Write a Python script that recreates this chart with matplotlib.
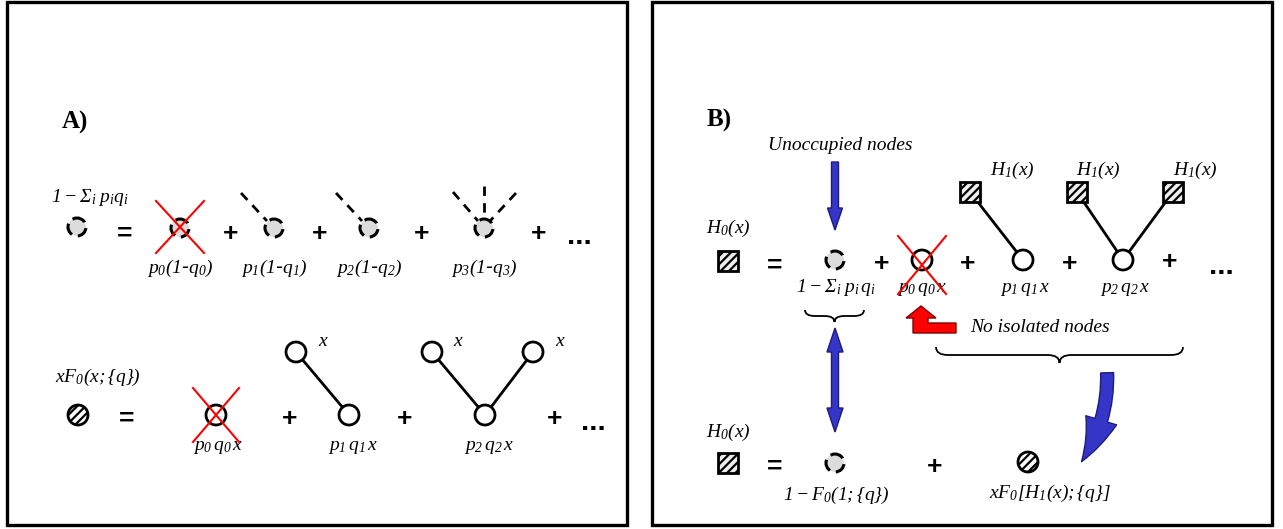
import matplotlib
matplotlib.use("Agg")
import matplotlib.pyplot as plt
import matplotlib.patches as mpatches
from matplotlib.path import Path

# every label in the figure is italic Times-like, digits included
plt.rcParams['mathtext.fontset'] = 'custom'
plt.rcParams['mathtext.rm'] = 'Liberation Serif:italic'
plt.rcParams['mathtext.it'] = 'Liberation Serif:italic'
plt.rcParams['mathtext.bf'] = 'Liberation Serif:bold'
plt.rcParams['hatch.linewidth'] = 1.6

# ---- text content ----
panel_tags = ['A)', 'B)']
a_top_head = r'$1-\Sigma_i\; p_i q_i$'
a_top_terms = [r'$p_0(1$‐$q_0)$', r'$p_1(1$‐$q_1)$',
               r'$p_2(1$‐$q_2)$', r'$p_3(1$‐$q_3)$']
a_top_legs = [0, 1, 1, 3]          # dashed links per term
a_bot_head = r'$xF_0(x;\{q\})$'
a_bot_terms = [r'$p_0\,q_0\,x$', r'$p_1\,q_1\,x$', r'$p_2\,q_2\,x$']
a_bot_legs = [0, 1, 2]
b_head = r'$H_0(x)$'
b_top_terms = [r'$1-\Sigma_i\; p_i\, q_i$', r'$p_0\,q_0\,x$',
               r'$p_1\,q_1\,x$', r'$p_2\,q_2\,x$']
b_leaf = r'$H_1(x)$'
b_bot_terms = [r'$1-F_0(1;\{q\})$', r'$xF_0[H_1(x);\{q\}]$']
note_unocc = 'Unoccupied nodes'
note_iso = 'No isolated nodes'

# ---- layout (pixels) ----
W, H = 1283, 529
fig = plt.figure(figsize=(W / 100, H / 100), dpi=100)
ax = fig.add_axes([0, 0, 1, 1])
ax.set_xlim(0, W)
ax.set_ylim(H, 0)
ax.axis('off')

BLUE = '#3535c8'
BLUE_E = '#1c1c80'
LBL = 14


def label(x, y, s, size=LBL, **kw):
    ax.text(x, y, s, fontsize=size, ha='center', va='center', **kw)


def op(x, y, s, size=19):
    ax.text(x, y, s, fontsize=size, fontweight='bold', family='Liberation Sans',
            ha='center', va='center')


def open_node(x, y, r=10):
    ax.add_patch(mpatches.Circle((x, y), r, fc='white', ec='black', lw=2, zorder=3))


def empty_node(x, y, r=9):
    ax.add_patch(mpatches.Circle((x, y), r, fc='#dcdcdc', ec='none', zorder=3))
    ax.add_patch(mpatches.Circle((x, y), r, fc='none', ec='black', lw=2.2,
                                 ls=(1.0, (4.0, 2.0)), zorder=4))


def hatch_node(x, y, r=10):
    ax.add_patch(mpatches.Circle((x, y), r, fc='white', ec='black', lw=2,
                                 hatch='////', zorder=3))


def hatch_square(x, y, s=20):
    ax.add_patch(mpatches.Rectangle((x - s / 2, y - s / 2), s, s, fc='#eeeeee',
                                    ec='black', lw=2, hatch='////', zorder=3))


def cross(x, y, w=24, h=26):
    ax.plot([x - w, x + w], [y - h, y + h], color='red', lw=1.5, zorder=5)
    ax.plot([x - w, x + w], [y + h, y - h], color='red', lw=1.5, zorder=5)


def link(x0, y0, x1, y1, dashed=False):
    ax.plot([x0, x1], [y0, y1], color='black', lw=2,
            ls=(0, (3.4, 2.6)) if dashed else '-', zorder=2)


def brace(x0, x1, y, h):
    xm = (x0 + x1) / 2
    r = min(12, (x1 - x0) / 6)
    verts = [(x0, y), (x0, y + h / 2), (x0 + r, y + h / 2),
             (xm - r, y + h / 2), (xm, y + h / 2), (xm, y + h),
             (xm, y + h / 2), (xm + r, y + h / 2),
             (x1 - r, y + h / 2), (x1, y + h / 2), (x1, y)]
    codes = [Path.MOVETO, Path.CURVE3, Path.CURVE3,
             Path.LINETO, Path.CURVE3, Path.CURVE3,
             Path.CURVE3, Path.CURVE3,
             Path.LINETO, Path.CURVE3, Path.CURVE3]
    ax.add_patch(mpatches.PathPatch(Path(verts, codes), fc='none', ec='black', lw=1.3))


# panel frames
for x0 in (7, 652):
    ax.add_patch(mpatches.Rectangle((x0, 2), 620, 523, fc='none', ec='black', lw=2.4))
ax.text(75, 122, panel_tags[0], fontsize=18, fontweight='bold', family='Liberation Serif',
        ha='center', va='center')
ax.text(719, 120, panel_tags[1], fontsize=18, fontweight='bold', family='Liberation Serif',
        ha='center', va='center')

# ---------- panel A, top row ----------
label(90, 198, a_top_head)
empty_node(77, 227)
op(125, 234, '=')
top_x = [180, 274, 369, 484]
for i, (cx, lab, n) in enumerate(zip(top_x, a_top_terms, a_top_legs)):
    empty_node(cx, 228)
    if n == 1:
        link(cx - 33, 193, cx - 7, 221, dashed=True)
    elif n == 3:
        link(cx - 31, 192, cx - 6, 221, dashed=True)
        link(cx, 186, cx, 219, dashed=True)
        link(cx + 32, 193, cx + 6, 221, dashed=True)
    if i == 0:
        cross(cx, 227)
    label(cx, 268, lab)
for px in (231, 320, 422, 539):
    op(px, 234, '+')
op(579, 236, '...', 21)

# ---------- panel A, bottom row ----------
label(98, 377, a_bot_head)
hatch_node(78, 415)
op(127, 419, '=')
bot_x = [216, 349, 485]
for i, (cx, lab, n) in enumerate(zip(bot_x, a_bot_terms, a_bot_legs)):
    if n == 1:
        link(cx - 53, 352, cx, 415)
        open_node(cx - 53, 352)
        label(cx - 26, 341, '$x$')
    elif n == 2:
        link(cx - 53, 352, cx, 415)
        link(cx + 48, 352, cx, 415)
        open_node(cx - 53, 352)
        open_node(cx + 48, 352)
        label(cx - 27, 341, '$x$')
        label(cx + 75, 341, '$x$')
    open_node(cx, 415)
    if i == 0:
        cross(cx, 415, 23, 27)
    label(cx + (2 if i == 0 else 4), 447, lab)
for px in (290, 405, 555):
    op(px, 419, '+')
op(593, 422, '...', 21)

# ---------- panel B, top row ----------
ax.text(840, 145, note_unocc, fontsize=14, style='italic', family='Liberation Serif',
        ha='center', va='center')
ax.add_patch(mpatches.FancyArrow(835, 162, 0, 68, width=7, head_width=15,
                                 head_length=22, length_includes_head=True,
                                 fc=BLUE, ec=BLUE_E, lw=1))
label(728, 228, b_head)
hatch_square(728, 261)
op(775, 266, '=')
empty_node(835, 260)
label(836, 288, b_top_terms[0])
op(882, 264, '+')
open_node(922, 260)
cross(922, 265, 24, 29)
label(922, 288, b_top_terms[1])
op(968, 264, '+')
# one leaf
link(970, 192, 1023, 260)
hatch_square(970, 192)
open_node(1023, 260)
label(1012, 170, b_leaf)
label(1025, 288, b_top_terms[2])
op(1070, 264, '+')
# two leaves
link(1077, 192, 1123, 260)
link(1173, 192, 1123, 260)
hatch_square(1077, 192)
hatch_square(1173, 192)
open_node(1123, 260)
label(1098, 170, b_leaf)
label(1195, 170, b_leaf)
label(1125, 288, b_top_terms[3])
op(1170, 262, '+')
op(1221, 266, '...', 21)

# braces and annotations
brace(805, 864, 310, 12)
brace(936, 1183, 347, 16)
dbl = [(835, 328), (843, 352), (838.5, 352), (838.5, 408), (843, 408), (835, 432),
       (827, 408), (831.5, 408), (831.5, 352), (827, 352)]
ax.add_patch(mpatches.Polygon(dbl, closed=True, fc=BLUE, ec=BLUE_E, lw=1))
red_arrow = [(921, 306), (936, 318), (928, 318), (928, 323), (956, 323), (956, 333),
             (913, 333), (913, 318), (906, 318)]
ax.add_patch(mpatches.Polygon(red_arrow, closed=True, fc='red', ec='#800000', lw=1))
ax.text(1040, 328, note_iso, fontsize=14, style='italic', family='Liberation Serif',
        ha='center', va='center')
ax.add_patch(mpatches.FancyArrowPatch((1107, 370), (1080, 464),
                                      connectionstyle='arc3,rad=-0.17',
                                      arrowstyle='simple,head_length=3.0,head_width=2.1,tail_width=0.85',
                                      mutation_scale=11, fc=BLUE, ec=BLUE_E, lw=1))

# ---------- panel B, bottom row ----------
label(728, 432, b_head)
hatch_square(728, 463)
op(775, 467, '=')
empty_node(835, 463)
label(836, 495, b_bot_terms[0])
op(935, 467, '+')
hatch_node(1028, 462)
label(1050, 493, b_bot_terms[1])

fig.savefig('out.png', dpi=100)
